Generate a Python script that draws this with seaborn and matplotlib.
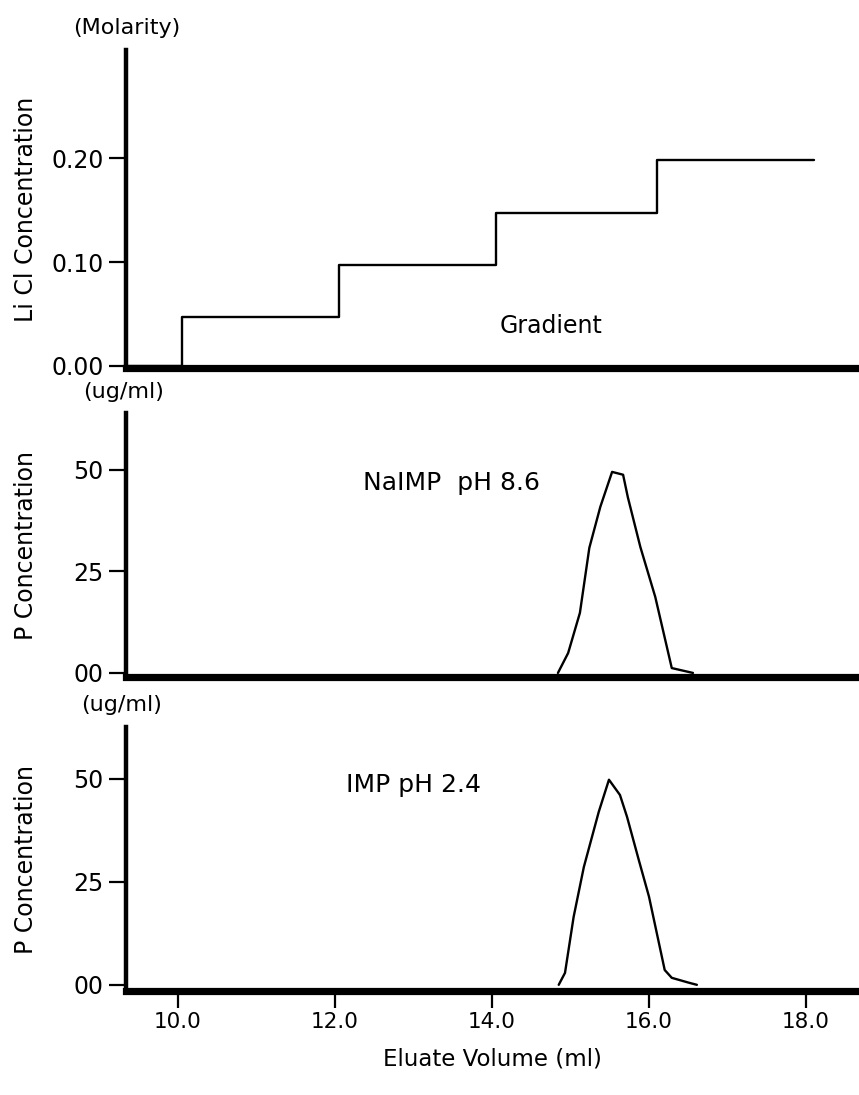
import matplotlib
matplotlib.use('Agg')
import matplotlib.pyplot as plt
import seaborn as sns
import pandas as pd

# ---- data ----
grad_volume = [9.34, 10.05, 12.05, 14.05, 16.10, 18.10]
grad_licl = [0.0, 0.047, 0.097, 0.147, 0.198, 0.198]

naimp_volume = [14.84, 14.97, 15.12, 15.24, 15.38, 15.53, 15.67, 15.73, 15.89, 16.08, 16.29, 16.56]
naimp_p = [0.0, 4.9, 14.8, 30.8, 40.9, 49.5, 48.8, 43.3, 31.0, 18.7, 1.2, 0.0]

imp_volume = [14.85, 14.93, 15.04, 15.17, 15.36, 15.49, 15.63, 15.72, 15.87, 16.00, 16.20, 16.29, 16.51, 16.61]
imp_p = [0.0, 2.9, 16.5, 28.6, 42.0, 49.8, 46.1, 40.8, 30.3, 21.4, 3.6, 1.7, 0.5, 0.0]

x_ticks = [10.0, 12.0, 14.0, 16.0, 18.0]
x_tick_labels = ['10.0', '12.0', '14.0', '16.0', '18.0']
licl_ticks = [0.00, 0.10, 0.20]
licl_tick_labels = ['0.00', '0.10', '0.20']
p_ticks = [0, 25, 50]
p_tick_labels = ['00', '25', '50']

sns.set_theme(style='white')
plt.rcParams['font.family'] = ['DejaVu Sans']
plt.rcParams['text.color'] = 'black'

W, H = 859, 1095
fig = plt.figure(figsize=(W / 100, H / 100), dpi=100)
fig.patch.set_facecolor('white')


def axes_px(left, top, right, bottom):
    return fig.add_axes([left / W, 1 - bottom / H, (right - left) / W, (bottom - top) / H])


ax1 = axes_px(126, 50, 859, 368)
ax2 = axes_px(126, 413, 859, 677)
ax3 = axes_px(126, 727, 859, 991)
axes = [ax1, ax2, ax3]

df_grad = pd.DataFrame({'volume': grad_volume, 'licl': grad_licl})
df_na = pd.DataFrame({'volume': naimp_volume, 'p': naimp_p})
df_imp = pd.DataFrame({'volume': imp_volume, 'p': imp_p})

sns.lineplot(data=df_grad, x='volume', y='licl', ax=ax1, color='black', linewidth=1.7,
             drawstyle='steps-post', estimator=None, sort=False)
sns.lineplot(data=df_na, x='volume', y='p', ax=ax2, color='black', linewidth=1.7,
             estimator=None, sort=False)
sns.lineplot(data=df_imp, x='volume', y='p', ax=ax3, color='black', linewidth=1.7,
             estimator=None, sort=False)

ax1.set_ylim(-0.002, 0.304)
ax2.set_ylim(-1.0, 64.0)
ax3.set_ylim(-1.5, 62.6)

for ax in axes:
    ax.set_facecolor('white')
    ax.set_xlim(9.338, 18.675)
    ax.spines['top'].set_visible(False)
    ax.spines['right'].set_visible(False)
    ax.spines['left'].set_linewidth(3.2)
    ax.spines['left'].set_color('black')
    ax.spines['bottom'].set_linewidth(5.2)
    ax.spines['bottom'].set_color('black')
    ax.tick_params(axis='y', left=True, direction='out', length=12, width=1.6, pad=4,
                   labelsize=17, colors='black')
    ax.set_xlabel('')
    ax.set_xticks(x_ticks)

ax1.set_yticks(licl_ticks)
ax1.set_yticklabels(licl_tick_labels)
for ax in (ax2, ax3):
    ax.set_yticks(p_ticks)
    ax.set_yticklabels(p_tick_labels)

for ax in (ax1, ax2):
    ax.tick_params(axis='x', bottom=False, labelbottom=False)

ax3.set_xticklabels(x_tick_labels)
ax3.tick_params(axis='x', bottom=True, direction='out', length=12, width=1.6, pad=3,
                labelsize=15.5, colors='black')
ax3.set_xlabel('Eluate Volume (ml)', fontsize=16.5, labelpad=11, color='black')

ax1.set_ylabel('Li Cl Concentration', fontsize=17, color='black')
ax2.set_ylabel('P Concentration', fontsize=17, color='black')
ax3.set_ylabel('P Concentration', fontsize=17, color='black')
for ax in axes:
    ax.yaxis.set_label_coords(-0.12, 0.5)

# unit labels above each y axis
fig.text(127 / W, 1 - 28 / H, '(Molarity)', fontsize=16, ha='center', va='center')
fig.text(124 / W, 1 - 392 / H, '(ug/ml)', fontsize=16, ha='center', va='center')
fig.text(122 / W, 1 - 705 / H, '(ug/ml)', fontsize=16, ha='center', va='center')

# annotations
ax1.text(14.75, 0.038, 'Gradient', fontsize=17, ha='center', va='center')
ax2.text(13.49, 46.8, 'NaIMP  pH 8.6', fontsize=18, ha='center', va='center')
ax3.text(13.0, 48.6, 'IMP pH 2.4', fontsize=18, ha='center', va='center')

fig.savefig('out.png', dpi=100, facecolor='white')
